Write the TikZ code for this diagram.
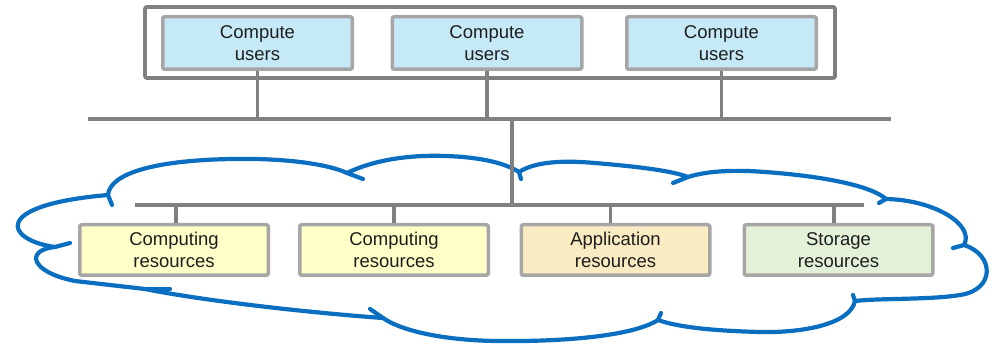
\documentclass[tikz,border=0pt]{standalone}
\usepackage{fontspec}
\setmainfont{Liberation Sans}
\definecolor{edgegray}{HTML}{A6A6A6}
\definecolor{busgray}{HTML}{808080}
\definecolor{cloudblue}{HTML}{0A6FC0}
\definecolor{userfill}{HTML}{C6E9F7}
\definecolor{compfill}{HTML}{FFFFC8}
\definecolor{appfill}{HTML}{FBEBC3}
\definecolor{storfill}{HTML}{E3F1D8}
\definecolor{textcol}{HTML}{1E1E1E}
\begin{document}
\begin{tikzpicture}[x=0.5pt,y=-0.5pt,
  box/.style={draw=edgegray, line width=1.75pt, rounded corners=1pt,
    align=center, text=textcol, inner sep=0pt,
    font=\fontsize{9.25pt}{11pt}\selectfont},
  userbox/.style={box, fill=userfill, minimum width=94.75pt, minimum height=26.25pt},
  resbox/.style={box, minimum width=94.25pt, minimum height=25.25pt},
  bus/.style={draw=busgray, line width=1.9pt},
  frame/.style={draw=busgray, line width=1.9pt, rounded corners=1pt,
    minimum width=345pt, minimum height=35.5pt, inner sep=0pt},
  cloud/.style={draw=cloudblue, line width=2.1pt, line join=round, line cap=round}]
\useasboundingbox (0,0) rectangle (992,347);

% the cloud outline, lobe by lobe
\draw[cloud] (108,195)
  .. controls (110,172) and (160,160) .. (233,159)
  .. controls (290,158) and (330,165) .. (347,173)
  .. controls (380,157) and (420,155) .. (445,156)
  .. controls (480,157) and (505,163) .. (519,172)
  .. controls (535,162) and (560,160) .. (595,163)
  .. controls (630,166) and (670,170) .. (688,177)
  .. controls (710,170) and (740,170) .. (765,172)
  .. controls (820,176) and (870,185) .. (886,199)
  .. controls (935,200) and (975,225) .. (964,245)
  .. controls (995,255) and (995,290) .. (960,295)
  .. controls (930,300) and (880,298) .. (855,301)
  .. controls (850,325) and (800,333) .. (760,332)
  .. controls (720,331) and (680,328) .. (658,320)
  .. controls (635,335) and (570,342) .. (495,341)
  .. controls (440,340) and (400,330) .. (383,318)
  .. controls (300,312) and (200,300) .. (145,289)
  -- (75,281)
  .. controls (30,272) and (25,250) .. (55,247)
  .. controls (5,240) and (-10,205) .. (108,195) -- cycle;
% short hooks where the lobes meet
\draw[cloud] (108,195) -- (112,205);
\draw[cloud] (55,247) -- (70,243);
\draw[cloud] (145,289) -- (170,289);
\draw[cloud] (383,318) -- (370,309);
\draw[cloud] (658,320) -- (661,313);
\draw[cloud] (855,301) -- (853,295);
\draw[cloud] (964,245) -- (953,248);
\draw[cloud] (886,199) -- (879,203);
\draw[cloud] (688,177) -- (673,183);
\draw[cloud] (519,172) -- (521,179);
\draw[cloud] (347,173) -- (363,179);

% user frame and user boxes
\node[frame] (frm) at (490,42.5) {};
\node[userbox] (u1) at (257.5,43) {Compute\\users};
\node[userbox] (u2) at (487,43) {Compute\\users};
\node[userbox] (u3) at (721.5,43) {Compute\\users};

% resource boxes
\node[resbox, fill=compfill] (r1) at (174,250) {Computing\\resources};
\node[resbox, fill=compfill] (r2) at (394,250) {Computing\\resources};
\node[resbox, fill=appfill]  (r3) at (615.5,250) {Application\\resources};
\node[resbox, fill=storfill] (r4) at (838.5,250) {Storage\\resources};

% bus lines
\coordinate (tl) at (88,119);
\coordinate (tr) at (891,119);
\coordinate (bl) at (135,205);
\coordinate (br) at (864,205);
\coordinate (tj) at (512,119);
\coordinate (bj) at (512,205);
\draw[bus] (tl) -- (tr);
\draw[bus] (bl) -- (br);
\draw[bus] (tj) -- (bj);
\foreach \n in {u1,u2,u3} \draw[bus] (\n.south) -- (\n.south |- tl);
\draw[bus] ([xshift=1pt]r1.north) -- ([xshift=1pt]r1.north |- bl);
\draw[bus] (r2.north) -- (r2.north |- bl);
\draw[bus] ([xshift=-2.5pt]r3.north) -- ([xshift=-2.5pt]r3.north |- bl);
\draw[bus] ([xshift=-2.25pt]r4.north) -- ([xshift=-2.25pt]r4.north |- bl);
\end{tikzpicture}
\end{document}
